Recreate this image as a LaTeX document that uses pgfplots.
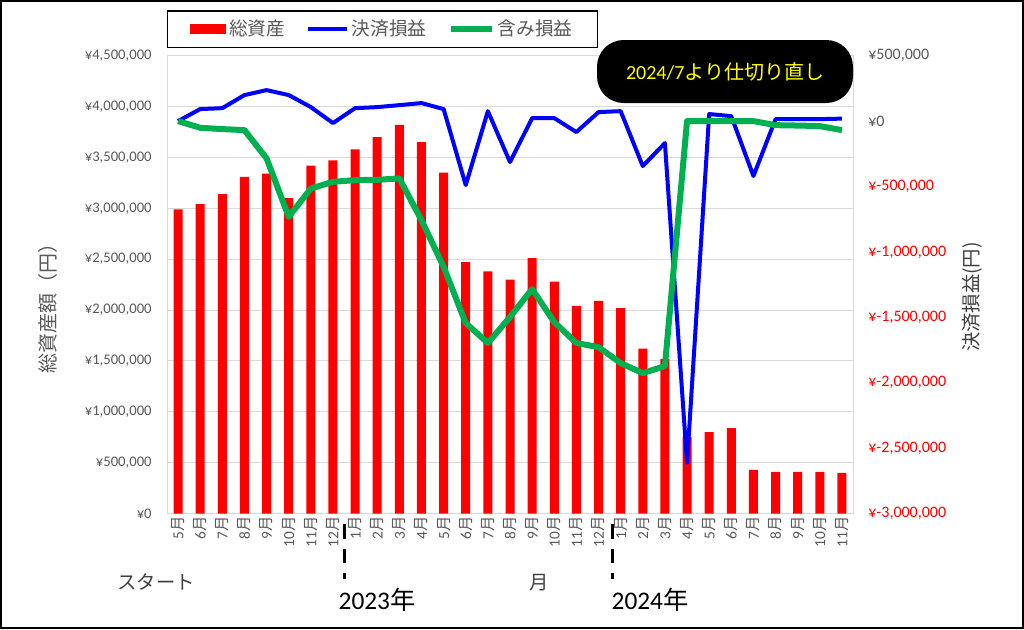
\documentclass[border=0pt]{standalone}
\usepackage{pgfplots}
\pgfplotsset{compat=1.18}
\usepackage{fontspec}
\setmainfont{Carlito}
\newfontfamily\jp{Noto Sans CJK JP}
\definecolor{gridgray}{HTML}{D9D9D9}
\definecolor{txtgray}{HTML}{595959}
\definecolor{dkgray}{HTML}{404040}
\definecolor{xlgreen}{HTML}{00B050}
\definecolor{xlblue}{HTML}{0000FF}
\definecolor{xlred}{HTML}{FF0000}
\definecolor{annyellow}{HTML}{FFFF00}
\newcommand{\m}[1]{#1{\jp 月}}
\newcommand{\rn}[1]{\textcolor{xlred}{#1}}
\begin{document}
\begin{tikzpicture}
\useasboundingbox (0pt,0pt) rectangle (768pt,-471.75pt);
\begin{axis}[
  at={(125.25pt,-385.125pt)}, anchor=south west,
  scale only axis, width=514.5pt, height=343.35pt,
  xmin=-0.5, xmax=30.5, ymin=0, ymax=4500000,
  ybar, bar width=6.75pt,
  xtick={0,...,30},
  xticklabels={\m{5},\m{6},\m{7},\m{8},\m{9},\m{10},\m{11},\m{12},\m{1},\m{2},\m{3},\m{4},\m{5},\m{6},\m{7},\m{8},\m{9},\m{10},\m{11},\m{12},\m{1},\m{2},\m{3},\m{4},\m{5},\m{6},\m{7},\m{8},\m{9},\m{10},\m{11}},
  xticklabel style={rotate=90, anchor=east, font=\fontsize{11.5}{13}\selectfont, text=txtgray, inner sep=2pt},
  ytick={0,500000,1000000,1500000,2000000,2500000,3000000,3500000,4000000,4500000},
  yticklabels={¥0,{¥500,000},{¥1,000,000},{¥1,500,000},{¥2,000,000},{¥2,500,000},{¥3,000,000},{¥3,500,000},{¥4,000,000},{¥4,500,000}},
  yticklabel style={font=\fontsize{11}{13}\selectfont, text=txtgray, xshift=-8pt},
  scaled y ticks=false,
  major tick length=0pt,
  axis line style={gridgray, line width=0.75pt},
  ymajorgrids, grid style={gridgray, line width=0.75pt},
  legend style={at={(0,1)}, anchor=south west, yshift=5.8pt, draw=black, line width=1.1pt,
    font=\jp\fontsize{14}{16}\selectfont, text=txtgray, legend columns=3,
    inner xsep=17pt, inner ysep=5pt,
    /tikz/every even column/.append style={column sep=14pt}},
]
\addplot[fill=xlred, draw=none, legend image code/.code={\fill[xlred] (0pt,-4pt) rectangle (27pt,4pt);}] coordinates {
(0,2990000) (1,3040000) (2,3140000) (3,3310000) (4,3340000) (5,3100000) (6,3420000) (7,3470000)
(8,3580000) (9,3700000) (10,3820000) (11,3650000) (12,3350000) (13,2470000) (14,2380000) (15,2300000)
(16,2510000) (17,2280000) (18,2040000) (19,2090000) (20,2020000) (21,1620000) (22,1520000) (23,750000)
(24,800000) (25,840000) (26,430000) (27,410000) (28,410000) (29,410000) (30,400000)};
\addlegendentry{総資産}
\addlegendimage{legend image code/.code={\draw[xlblue, line width=3pt] (0pt,0pt) -- (29pt,0pt);}}
\addlegendentry{決済損益}
\addlegendimage{legend image code/.code={\draw[xlgreen, line width=4.5pt] (0pt,0pt) -- (31pt,0pt);}}
\addlegendentry{含み損益}
\end{axis}
\begin{axis}[
  at={(125.25pt,-385.125pt)}, anchor=south west,
  scale only axis, width=514.5pt, height=343.35pt,
  xmin=-0.5, xmax=30.5, ymin=-3000000, ymax=500000,
  axis x line=none, axis y line*=right, y axis line style={draw=none},
  ytick={-3000000,-2500000,-2000000,-1500000,-1000000,-500000,0,500000},
  yticklabels={{\rn{¥-3,000,000}},{\rn{¥-2,500,000}},{\rn{¥-2,000,000}},{\rn{¥-1,500,000}},{\rn{¥-1,000,000}},{\rn{¥-500,000}},¥0,{¥500,000}},
  yticklabel style={font=\fontsize{12}{14}\selectfont, text=txtgray, anchor=west, xshift=8pt},
  scaled y ticks=false,
  major tick length=0pt,
]
\addplot[xlblue, line width=3pt, line join=round] coordinates {
(0,0) (1,92000) (2,99000) (3,199000) (4,237000) (5,199000) (6,107000) (7,-15000)
(8,99000) (9,107000) (10,122000) (11,138000) (12,92000) (13,-489000) (14,76000) (15,-313000)
(16,23000) (17,23000) (18,-84000) (19,69000) (20,76000) (21,-344000) (22,-168000) (23,-2615000)
(24,54000) (25,38000) (26,-420000) (27,15000) (28,15000) (29,15000) (30,19000)};
\addplot[xlgreen, line width=4.5pt, line join=round] coordinates {
(0,0) (1,-51000) (2,-61000) (3,-69000) (4,-285000) (5,-732000) (6,-515000) (7,-464000)
(8,-451000) (9,-449000) (10,-438000) (11,-757000) (12,-1114000) (13,-1544000) (14,-1697000) (15,-1498000)
(16,-1284000) (17,-1537000) (18,-1697000) (19,-1728000) (20,-1850000) (21,-1927000) (22,-1873000) (23,0)
(24,0) (25,0) (26,0) (27,-31000) (28,-34000) (29,-38000) (30,-69000)};
\end{axis}
\begin{scope}[x=0.75pt,y=-0.75pt]
\fill[black, rounded corners=20pt] (597,40) rectangle (853,103);
\node[text=annyellow, font=\fontsize{15}{17}\selectfont] at (725,72) {2024/7{\jp より仕切り直し}};
\node[rotate=90, text=txtgray, font=\jp\fontsize{15}{18}\selectfont] at (48,303) {総資産額（円）};
\node[rotate=90, text=dkgray, font=\jp\fontsize{14.5}{17}\selectfont] at (972,297) {決済損益(円)};
\node[text=dkgray, font=\jp\fontsize{14.5}{17}\selectfont] at (156,582) {スタート};
\node[text=dkgray, font=\jp\fontsize{14.5}{17}\selectfont] at (539,583) {月};
\node[text=black, font=\fontsize{19}{22}\selectfont] at (377,600) {2023{\jp 年}};
\node[text=black, font=\fontsize{19}{22}\selectfont] at (650,600) {2024{\jp 年}};
\draw[line width=2.25pt, dash pattern=on 11pt off 7.5pt] (344,524) -- (344,579);
\draw[line width=2.25pt, dash pattern=on 11pt off 7.5pt] (612,524) -- (612,579);
\draw[line width=1.5pt] (1,1) rectangle (1023,628);
\end{scope}
\end{tikzpicture}
\end{document}
